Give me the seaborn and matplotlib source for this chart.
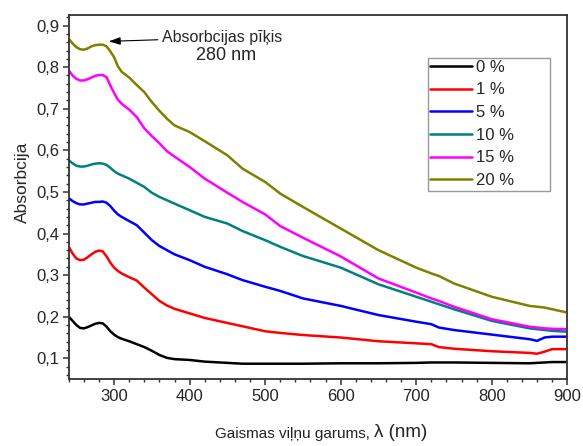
import matplotlib
matplotlib.use("Agg")
import matplotlib.pyplot as plt
from matplotlib.ticker import MultipleLocator, FuncFormatter
from matplotlib.patches import Rectangle
import seaborn as sns
import pandas as pd

# ---- data ----
wavelength = [240, 245, 250, 255, 260, 265, 270, 275, 280, 285, 290, 295, 300, 305, 310,
              320, 330, 340, 350, 360, 370, 380, 400, 420, 450, 470, 500, 520, 550, 600,
              650, 700, 720, 730, 750, 800, 850, 860, 870, 880, 900]

labels = ["0 %", "1 %", "5 %", "10 %", "15 %", "20 %"]

a_0 = [0.200, 0.190, 0.180, 0.173, 0.172, 0.175, 0.179, 0.183, 0.185, 0.184, 0.176, 0.165,
       0.157, 0.151, 0.147, 0.141, 0.134, 0.127, 0.118, 0.108, 0.101, 0.098, 0.096, 0.092,
       0.089, 0.087, 0.087, 0.087, 0.087, 0.088, 0.088, 0.089, 0.090, 0.090, 0.090, 0.089,
       0.088, 0.089, 0.090, 0.091, 0.091]
a_1 = [0.368, 0.352, 0.340, 0.336, 0.337, 0.343, 0.350, 0.356, 0.359, 0.357, 0.345, 0.330,
       0.318, 0.310, 0.304, 0.295, 0.287, 0.270, 0.254, 0.238, 0.227, 0.219, 0.208, 0.197,
       0.185, 0.177, 0.165, 0.161, 0.156, 0.150, 0.141, 0.136, 0.134, 0.127, 0.123, 0.117,
       0.113, 0.111, 0.116, 0.122, 0.122]
a_5 = [0.485, 0.478, 0.473, 0.470, 0.470, 0.472, 0.474, 0.476, 0.476, 0.477, 0.474, 0.466,
       0.455, 0.446, 0.440, 0.430, 0.420, 0.402, 0.384, 0.370, 0.360, 0.350, 0.336, 0.320,
       0.302, 0.288, 0.272, 0.262, 0.244, 0.226, 0.204, 0.188, 0.182, 0.174, 0.168, 0.157,
       0.146, 0.142, 0.150, 0.152, 0.152]
a_10 = [0.576, 0.569, 0.563, 0.561, 0.561, 0.563, 0.566, 0.568, 0.569, 0.568, 0.565, 0.558,
        0.550, 0.544, 0.540, 0.532, 0.522, 0.512, 0.498, 0.488, 0.480, 0.472, 0.456, 0.440,
        0.424, 0.406, 0.384, 0.368, 0.346, 0.318, 0.278, 0.248, 0.236, 0.230, 0.218, 0.190,
        0.172, 0.170, 0.168, 0.166, 0.164]
a_15 = [0.792, 0.780, 0.772, 0.768, 0.768, 0.771, 0.775, 0.779, 0.781, 0.781, 0.776, 0.756,
        0.738, 0.722, 0.712, 0.698, 0.680, 0.653, 0.634, 0.617, 0.598, 0.585, 0.560, 0.532,
        0.498, 0.476, 0.446, 0.418, 0.390, 0.345, 0.292, 0.258, 0.244, 0.238, 0.224, 0.194,
        0.176, 0.174, 0.172, 0.171, 0.170]
a_20 = [0.868, 0.857, 0.848, 0.843, 0.842, 0.845, 0.850, 0.853, 0.854, 0.854, 0.850, 0.838,
        0.824, 0.802, 0.789, 0.775, 0.757, 0.740, 0.716, 0.695, 0.676, 0.660, 0.644, 0.622,
        0.588, 0.556, 0.524, 0.496, 0.464, 0.412, 0.360, 0.318, 0.304, 0.298, 0.280, 0.248,
        0.226, 0.224, 0.222, 0.218, 0.210]

colors = ["#000000", "#ff0000", "#0000ff", "#008080", "#ff00ff", "#808000"]

series = [a_0, a_1, a_5, a_10, a_15, a_20]
rows = []
for lab, vals in zip(labels, series):
    for w, v in zip(wavelength, vals):
        rows.append({"wl": w, "A": v, "series": lab})
df = pd.DataFrame(rows)

# ---- style ----
sns.set_style("ticks")
plt.rcParams["font.family"] = ["Liberation Sans", "DejaVu Sans"]
plt.rcParams["axes.edgecolor"] = "#333333"
plt.rcParams["axes.linewidth"] = 1.3

fig = plt.figure(figsize=(5.83, 4.46), dpi=100)
ax = fig.add_axes([0.118, 0.150, 0.855, 0.816])

sns.lineplot(data=df, x="wl", y="A", hue="series", hue_order=labels,
             palette=dict(zip(labels, colors)), estimator=None, errorbar=None,
             linewidth=1.8, ax=ax)

ax.set_xlim(240, 900)
ax.set_ylim(0.05, 0.925)
ax.xaxis.set_major_locator(MultipleLocator(100))
ax.xaxis.set_minor_locator(MultipleLocator(20))
ax.yaxis.set_major_locator(MultipleLocator(0.1))
ax.yaxis.set_minor_locator(MultipleLocator(0.02))
ax.yaxis.set_major_formatter(FuncFormatter(lambda v, p: f"{v:.1f}".replace(".", ",")))
ax.tick_params(which="major", length=4, width=1.1, labelsize=12, color="#333333", pad=3)
ax.tick_params(which="minor", length=2.3, width=1.0, color="#333333")
for s in ax.spines.values():
    s.set_visible(True)

ax.set_ylabel("Absorbcija", fontsize=12.5)
ax.yaxis.set_label_coords(-0.078, 0.54)
ax.set_xlabel("")

# x label in two parts
t1 = fig.text(0.641, 0.018, "Gaismas viļņu garums, ", fontsize=11, ha="right", va="baseline",
              color="#222222")
ax.annotate("λ (nm)", xy=(1, 0), xycoords=t1, va="bottom", ha="left", fontsize=13.5,
            color="#222222")

# legend (frame drawn separately to match the wide box of the reference)
handles, _ = ax.get_legend_handles_labels()
leg = ax.legend(handles=handles, labels=labels, loc="upper left",
                bbox_to_anchor=(0.721, 0.882), borderaxespad=0, frameon=False,
                fontsize=12, handlelength=2.5, handletextpad=0.25, labelspacing=0.46,
                borderpad=0.1)
for line in leg.get_lines():
    line.set_linewidth(1.8)
ax.add_patch(Rectangle((0.721, 0.516), 0.245, 0.366, transform=ax.transAxes, fill=False,
                       edgecolor="#999999", linewidth=1.0, zorder=5))

# annotation
ax.annotate("Absorbcijas pīķis", xy=(293, 0.862), xytext=(364, 0.871),
            fontsize=11.5, va="center", ha="left",
            arrowprops=dict(arrowstyle="-|>,head_length=0.6,head_width=0.2",
                            color="black", lw=0.8, shrinkA=1, shrinkB=0))
ax.text(448, 0.828, "280 nm", fontsize=13, ha="center", va="center")

fig.savefig("out.png", dpi=100)
